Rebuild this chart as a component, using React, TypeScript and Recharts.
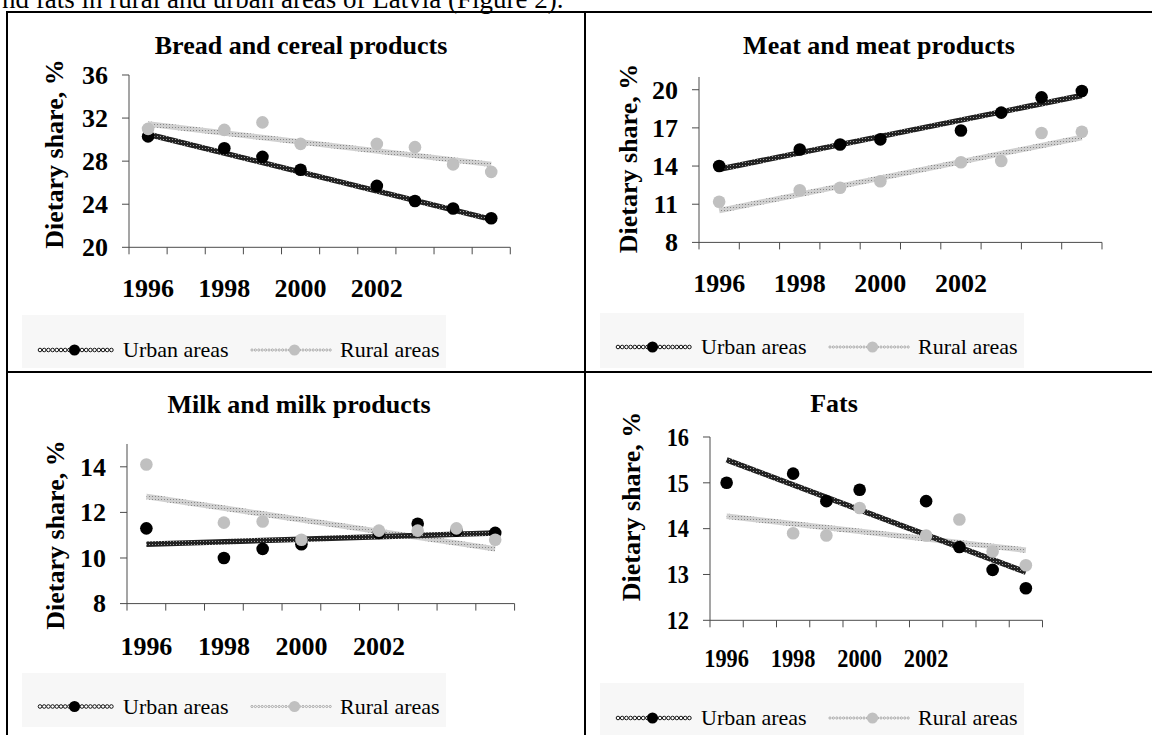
import React from 'react';
import { ComposedChart, Line, XAxis, YAxis } from 'recharts';

const years = [1996, 1997, 1998, 1999, 2000, 2001, 2002, 2003, 2004, 2005];
const yearLabels = [1996, 1998, 2000, 2002];

// Bread and cereal products
const breadUrban = [30.3, null, 29.2, 28.4, 27.2, null, 25.7, 24.3, 23.6, 22.7];
const breadRural = [31.0, null, 30.9, 31.6, 29.6, null, 29.6, 29.3, 27.7, 27.0];
const breadUrbanTrend = [30.5, 22.6];
const breadRuralTrend = [31.45, 27.7];

// Meat and meat products
const meatUrban = [14.0, null, 15.3, 15.7, 16.1, null, 16.8, 18.2, 19.4, 19.9];
const meatRural = [11.2, null, 12.1, 12.3, 12.8, null, 14.3, 14.4, 16.6, 16.7];
const meatUrbanTrend = [13.75, 19.55];
const meatRuralTrend = [10.5, 16.25];

// Milk and milk products
const milkUrban = [11.3, null, 10.0, 10.4, 10.6, null, 11.1, 11.5, 11.2, 11.1];
const milkRural = [14.1, null, 11.55, 11.6, 10.8, null, 11.2, 11.2, 11.3, 10.8];
const milkUrbanTrend = [10.6, 11.1];
const milkRuralTrend = [12.7, 10.4];

// Fats
const fatsUrban = [15.0, null, 15.2, 14.6, 14.85, null, 14.6, 13.6, 13.1, 12.7];
const fatsRural = [null, null, 13.9, 13.85, 14.45, null, 13.85, 14.2, 13.5, 13.2];
const fatsUrbanTrend = [15.5, 13.05];
const fatsRuralTrend = [14.27, 13.53];

const FONT = '"Liberation Serif", "Times New Roman", serif';
const AXIS = '#4a4a4a';
const URBAN_DOT = '#000000';
const RURAL_DOT = '#c0c0c0';

type Num = number | null;

interface PanelSpec {
  id: string;
  title: string;
  urban: Num[];
  rural: Num[];
  urbanTrend: number[];
  ruralTrend: number[];
  domain: [number, number];
  yTicks: number[];
  plot: { left: number; right: number; top: number; bottom: number };
  labelDy: number;
  squeeze: number;
  cellLeft: number;
  titleX: number;
  titleY: number;
  yLabel: [number, number];
  legendTop: number;
  legendH: number;
  legendBase: number;
}

const panels: PanelSpec[] = [
  {
    id: 'bread', title: 'Bread and cereal products',
    urban: breadUrban, rural: breadRural, urbanTrend: breadUrbanTrend, ruralTrend: breadRuralTrend,
    domain: [20, 36], yTicks: [20, 24, 28, 32, 36],
    plot: { left: 128.6, right: 509.9, top: 75, bottom: 247.3 },
    labelDy: 49.7, squeeze: 1, cellLeft: 8,
    titleX: 301, titleY: 54, yLabel: [54, 154],
    legendTop: 315, legendH: 53, legendBase: 357,
  },
  {
    id: 'meat', title: 'Meat and meat products',
    urban: meatUrban, rural: meatRural, urbanTrend: meatUrbanTrend, ruralTrend: meatRuralTrend,
    domain: [8, 21], yTicks: [8, 11, 14, 17, 20],
    plot: { left: 699.1, right: 1102.1, top: 77.3, bottom: 242.7 },
    labelDy: 50, squeeze: 1, cellLeft: 586,
    titleX: 879, titleY: 54, yLabel: [628, 158.5],
    legendTop: 313, legendH: 55, legendBase: 354,
  },
  {
    id: 'milk', title: 'Milk and milk products',
    urban: milkUrban, rural: milkRural, urbanTrend: milkUrbanTrend, ruralTrend: milkRuralTrend,
    domain: [8, 15], yTicks: [8, 10, 12, 14],
    plot: { left: 126.7, right: 514.3, top: 443.9, bottom: 603.5 },
    labelDy: 51.5, squeeze: 1, cellLeft: 8,
    titleX: 299, titleY: 413, yLabel: [55, 535],
    legendTop: 673, legendH: 54, legendBase: 713.5,
  },
  {
    id: 'fats', title: 'Fats',
    urban: fatsUrban, rural: fatsRural, urbanTrend: fatsUrbanTrend, ruralTrend: fatsRuralTrend,
    domain: [12, 16], yTicks: [12, 13, 14, 15, 16],
    plot: { left: 710.1, right: 1042.6, top: 436.7, bottom: 620 },
    labelDy: 47, squeeze: 0.86, cellLeft: 586,
    titleX: 834, titleY: 412, yLabel: [631, 506.5],
    legendTop: 683, legendH: 60, legendBase: 725,
  },
];

// tick marks sit on the category borders, labels on the category centres
const borderTicks = [...years.map((y) => y - 0.5), years[years.length - 1] + 0.5];
const xTicks = [...borderTicks, ...yearLabels].sort((a, b) => a - b);

const YW = 80;
const PAD_TOP = 20;
const PAD_RIGHT = 10;
const XH = 70;

function XTick(props: any) {
  const { x, y, payload, labelDy, squeeze } = props;
  const v = payload.value as number;
  if (v % 1 !== 0) {
    return <line x1={x} x2={x} y1={y} y2={y + 7} stroke={AXIS} strokeWidth={1} />;
  }
  return (
    <text
      x={x}
      y={y + labelDy}
      textAnchor="middle"
      fontFamily={FONT}
      fontWeight={700}
      fontSize={26}
      fill="#000"
      transform={`translate(${x},0) scale(${squeeze},1) translate(${-x},0)`}
    >
      {v}
    </text>
  );
}

function YTick(props: any) {
  const { x, y, payload, squeeze } = props;
  return (
    <text
      x={x}
      y={y}
      dy="0.34em"
      textAnchor="end"
      fontFamily={FONT}
      fontWeight={700}
      fontSize={26}
      fill="#000"
      transform={`translate(${x},0) scale(${squeeze},1) translate(${-x},0)`}
    >
      {payload.value}
    </text>
  );
}

function Panel({ p }: { p: PanelSpec }) {
  const last = years.length - 1;
  const rows = years.map((year, i) => ({
    year,
    urban: p.urban[i],
    rural: p.rural[i],
    urbanTrend: i === 0 ? p.urbanTrend[0] : i === last ? p.urbanTrend[1] : null,
    ruralTrend: i === 0 ? p.ruralTrend[0] : i === last ? p.ruralTrend[1] : null,
  }));
  const w = p.plot.right - p.plot.left;
  const h = p.plot.bottom - p.plot.top;

  return (
    <div style={{ position: 'absolute', left: p.plot.left - YW, top: p.plot.top - PAD_TOP }}>
      <ComposedChart
        width={w + YW + PAD_RIGHT}
        height={h + PAD_TOP + XH}
        data={rows}
        margin={{ top: PAD_TOP, right: PAD_RIGHT, bottom: 0, left: 0 }}
      >
        <defs>
          <pattern id={`urbanTex-${p.id}`} width={3} height={3} patternUnits="userSpaceOnUse">
            <rect width={3} height={3} fill="#222222" />
            <rect width={1} height={1} fill="#a0a0a0" />
          </pattern>
          <pattern id={`ruralTex-${p.id}`} width={3} height={3} patternUnits="userSpaceOnUse">
            <rect width={3} height={3} fill="#d0d0d0" />
            <rect width={1} height={1} fill="#888888" />
          </pattern>
        </defs>
        <XAxis
          type="number"
          dataKey="year"
          domain={[years[0] - 0.5, years[last] + 0.5]}
          ticks={xTicks}
          interval={0}
          allowDataOverflow
          height={XH}
          tickSize={0}
          tickMargin={0}
          tickLine={false}
          axisLine={{ stroke: AXIS, strokeWidth: 1 }}
          tick={<XTick labelDy={p.labelDy} squeeze={p.squeeze} />}
        />
        <YAxis
          type="number"
          domain={p.domain}
          ticks={p.yTicks}
          interval={0}
          allowDataOverflow
          width={YW}
          tickSize={7}
          tickMargin={14}
          axisLine={{ stroke: AXIS, strokeWidth: 1 }}
          tickLine={{ stroke: AXIS, strokeWidth: 1 }}
          tick={<YTick squeeze={p.squeeze} />}
        />
        <Line
          dataKey="urban"
          stroke="none"
          dot={{ r: 6.3, fill: URBAN_DOT, stroke: 'none' }}
          activeDot={false}
          isAnimationActive={false}
        />
        <Line
          dataKey="rural"
          stroke="none"
          dot={{ r: 6.3, fill: RURAL_DOT, stroke: 'none' }}
          activeDot={false}
          isAnimationActive={false}
        />
        <Line
          dataKey="ruralTrend"
          connectNulls
          stroke={`url(#ruralTex-${p.id})`}
          strokeWidth={5.5}
          dot={false}
          activeDot={false}
          isAnimationActive={false}
        />
        <Line
          dataKey="urbanTrend"
          connectNulls
          stroke={`url(#urbanTex-${p.id})`}
          strokeWidth={5.5}
          dot={false}
          activeDot={false}
          isAnimationActive={false}
        />
      </ComposedChart>
    </div>
  );
}

function LegendIcons({ x0, y, urban }: { x0: number; y: number; urban: boolean }) {
  const dots = [];
  const len = urban ? 75 : 81;
  const step = urban ? 4.2 : 3.4;
  for (let d = 0; d <= len; d += step) {
    dots.push(
      urban ? (
        <circle key={d} cx={x0 + d} cy={y} r={1.8} fill="#fff" stroke="#111" strokeWidth={1} />
      ) : (
        <circle key={d} cx={x0 + d} cy={y} r={1.1} fill="none" stroke="#9a9a9a" strokeWidth={0.8} />
      )
    );
  }
  return (
    <g>
      {dots}
      <circle cx={x0 + len / 2 + (urban ? -3 : 2)} cy={y} r={5.5} fill={urban ? '#000' : RURAL_DOT} />
    </g>
  );
}

function Frame() {
  return (
    <svg width={1152} height={735} style={{ position: 'absolute', left: 0, top: 0 }}>
      <text x={2} y={7.5} fontFamily={FONT} fontSize={27} fill="#000">
        nd fats in rural and urban areas of Latvia (Figure 2).
      </text>
      <rect x={6} y={11} width={1146} height={2} fill="#000" />
      <rect x={6} y={11} width={2} height={724} fill="#000" />
      <rect x={584} y={11} width={2} height={724} fill="#000" />
      <rect x={6} y={371} width={1146} height={2} fill="#000" />
      {panels.map((p) => (
        <g key={p.id}>
          <text
            x={p.titleX}
            y={p.titleY}
            textAnchor="middle"
            fontFamily={FONT}
            fontWeight={700}
            fontSize={26}
            fill="#000"
          >
            {p.title}
          </text>
          <text
            transform={`translate(${p.yLabel[0]},${p.yLabel[1]}) rotate(-90)`}
            dy="0.35em"
            textAnchor="middle"
            fontFamily={FONT}
            fontWeight={700}
            fontSize={26}
            fill="#000"
          >
            Dietary share, %
          </text>
          <rect x={p.cellLeft + 14} y={p.legendTop} width={424} height={p.legendH} fill="#f7f7f7" />
          <LegendIcons x0={p.cellLeft + 32} y={p.legendBase - 7} urban />
          <text x={p.cellLeft + 115} y={p.legendBase} fontFamily={FONT} fontSize={22} fill="#000">
            Urban areas
          </text>
          <LegendIcons x0={p.cellLeft + 244} y={p.legendBase - 7} urban={false} />
          <text x={p.cellLeft + 332} y={p.legendBase} fontFamily={FONT} fontSize={22} fill="#000">
            Rural areas
          </text>
        </g>
      ))}
    </svg>
  );
}

export default function App() {
  return (
    <div
      style={{
        position: 'absolute',
        left: 0,
        top: 0,
        width: 1152,
        height: 735,
        background: '#fff',
        overflow: 'hidden',
      }}
    >
      <Frame />
      {panels.map((p) => (
        <Panel key={p.id} p={p} />
      ))}
    </div>
  );
}
